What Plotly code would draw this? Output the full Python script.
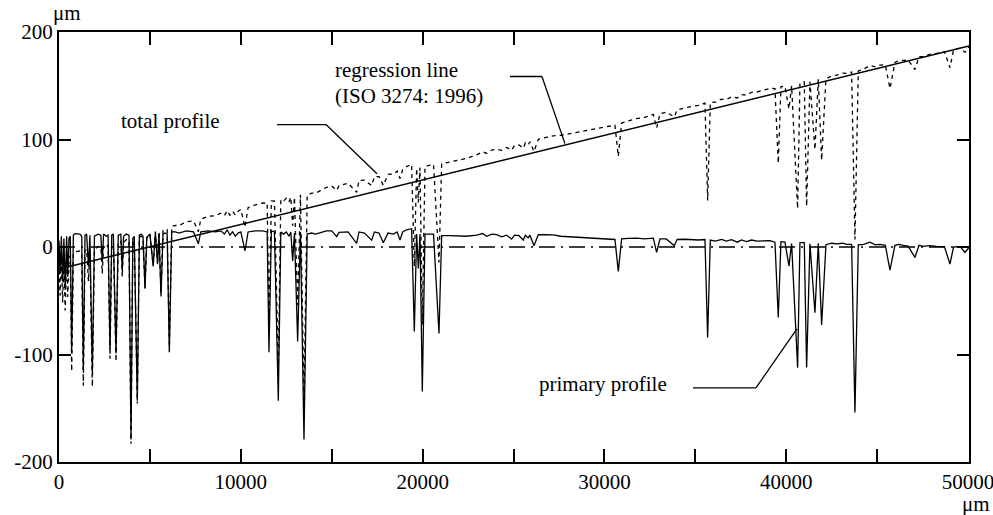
import numpy as np
import plotly.graph_objects as go

# ---- data (µm) ----
primary_x = [0, 60, 130, 200, 270, 340, 420, 480, 550, 620, 698, 790, 880, 1150, 1250, 1338, 1430, 1520, 1620, 1700,
             1833, 1950, 2160, 2300, 2380, 2450, 2600, 2700, 2805, 2900, 2990, 3135, 3260, 3400, 3480, 3550, 3700,
             3850, 3960, 4060, 4140, 4307, 4420, 4510, 4620, 4730, 4830, 5000, 5180, 5300, 5420, 5500, 5610, 5720,
             5830, 5950, 6068, 6200, 6400,
             6600, 7000, 7400, 7663, 7800, 8200, 8600, 8900, 9100, 9250, 9400, 9550, 9700, 9850, 10000, 10230, 10400,
             10800, 11200, 11450, 11549, 11680, 11850, 12062, 12200, 12350, 12500, 12650, 12750, 12851, 12950, 13126,
             13280, 13474, 13650, 13900, 14100, 14300,
             14700, 15000, 15271, 15400, 15900, 16370, 16500, 16800, 17195, 17350, 17600, 17837, 18100, 18400, 18600,
             18754, 18900, 19120, 19395, 19542, 19670, 19762, 19854, 19982, 20129, 20400, 20600, 20899, 21046, 21500,
             22000, 22400,
             22970, 23300, 23520, 23800, 24070, 24350, 24620, 24895, 25050, 25300, 25537, 25650, 25800, 25903, 26123,
             26362, 26800, 27186, 27600, 28103, 28500, 29020, 29500, 29936, 30300, 30578, 30761, 30944, 31300, 31769,
             32200, 32686, 32870, 33053,
             33400, 33840, 34000, 34427, 35161, 35528, 35675, 35821, 36100, 36445, 36700, 36994, 37300, 37544, 37800,
             38094, 38400, 38827, 39100, 39377, 39560, 39707, 39927, 40147, 40294, 40624, 40752, 40990, 41119, 41302,
             41577, 41760, 41944, 42182, 42500, 42769, 43100, 43319, 43594, 43777, 43960, 44250, 44602, 44900, 45152,
             45450, 45702, 45977, 46200, 46435, 46700, 47077, 47300, 47535, 47900, 48269, 48700, 49002, 49200, 49369,
             49600, 49827, 50050]
primary_y = [6, -25, 10, -32, 8, -40, 10, -28, 8, 10, -98, 11, 12.5, 12, 10, -114, 11, 12, -18, 11,
             -117, 10, 12, 11, -14, 12, 10, 11, -95, 11, 12, -99, 11, 12, -22, 10, 12,
             11, -179, 8, 10, -143, 11, 12, 10, -38, 9, 12, -18, 13, -16, 12, -46, 12,
             13, 12, -98, 14, 14,
             13, 15, 14, 3, 14, 15, 14, 15, 12, 16, 11, 14, 10, 13, 14, -3.5, 14,
             15, 15, 14, -98, 15, 14, -143, 14, 12, 14, 10, 14, -13, 13, -88,
             14, -179, 12, 13, 12, 13,
             15, 15, 9.7, 13.6, 14, 3.4, 14, 13, 6.4, 14, 13, 3.9, 13, 12, 14,
             6.4, 14, 16, 17, -78.6, 12, -20, 12, -134.5, 12, 12, 12, -80.5, 10.5, 10.5,
             10.5, 10,
             11, 12.5, 10, 12, 11.5, 9.5, 11, 7.4, 11, 10.5, 6.5, 11, 8.5, 11, 1.1,
             11.4, 11.4, 11.2, 10, 9.5, 9, 8, 8.2, 7.5, 7, 7, -22.7, 7.5, 8, 8.3,
             7.5, 8.3, -5, 7.5,
             7.5, 1.2, 7, 7.2, 6.5, 7, -84.2, 6.5, 5.5, 7, 5.5, 6.8, 4.5, 6.5, 5,
             6.5, 5.5, 5.5, 6, 4.5, -65.6, 5, 4.5, -17.5, 3.3, -112.2, 4, 4, -112, 3,
             -61.2, 3.5, -72.6, 2.1, 3.5, 3, 3.5, 2.5, 2.5, -154, 2, 2.5, 4.5, 2, 2.5,
             1.5, -21.5, 1.5, 2.5, 1.5, 0.8, -9.7, 1.5, 0.5, 1.2, 0.5, 0.3, -15.9, 0, 0.3,
             -0.3, -5, -0.5]

# regression (form) line, ISO 3274:1996 – end points
regression_x = [0, 50050]
regression_y = [-20.5, 187]

# mean line of the primary profile
mean_x = [0, 50050]
mean_y = [0, 0]

# total profile = primary profile + regression line (the form that was removed)
total_x = primary_x
total_y = list(np.array(primary_y) + np.interp(primary_x, regression_x, regression_y))

x_tickvals = list(range(0, 50001, 5000))
x_ticktext = ["0", "", "10000", "", "20000", "", "30000", "", "40000", "", "50000"]
y_tickvals = [-200, -100, 0, 100, 200]
y_ticktext = ["-200", "-100", "0", "100", "200"]

FONT = "Liberation Serif"

fig = go.Figure()
fig.add_trace(go.Scatter(x=mean_x, y=mean_y, mode="lines",
                         line=dict(color="black", width=1.3, dash="16px,6px,2px,6px"), hoverinfo="skip"))
fig.add_trace(go.Scatter(x=total_x, y=total_y, mode="lines",
                         line=dict(color="black", width=1.3, dash="4px,4px"), hoverinfo="skip"))
fig.add_trace(go.Scatter(x=regression_x, y=regression_y, mode="lines",
                         line=dict(color="black", width=1.5), hoverinfo="skip"))
fig.add_trace(go.Scatter(x=primary_x, y=primary_y, mode="lines",
                         line=dict(color="black", width=1.3), hoverinfo="skip"))

# labels with leader lines
labels = [
    dict(text="total profile", x=6105, y=117.6, xanchor="center"),
    dict(text="regression line", x=15069, y=164.2, xanchor="left"),
    dict(text="(ISO 3274: 1996)", x=15069, y=140.9, xanchor="left"),
    dict(text="primary profile", x=26272, y=-127.7, xanchor="left"),
]
for lb in labels:
    fig.add_annotation(x=lb["x"], y=lb["y"], text=lb["text"], showarrow=False,
                       xanchor=lb["xanchor"], yanchor="middle",
                       font=dict(family=FONT, size=21, color="black"))

leaders = [
    ([11989, 14684, 17489], [113.9, 113.9, 68.2]),
    ([24803, 26563, 27828], [158.6, 158.6, 96.2]),
    ([34867, 38332, 40587], [-131.1, -131.1, -76.2]),
]
for lx, ly in leaders:
    for i in range(len(lx) - 1):
        fig.add_shape(type="line", xref="x", yref="y", x0=lx[i], y0=ly[i], x1=lx[i + 1], y1=ly[i + 1],
                      line=dict(color="black", width=1.3))

# unit labels
fig.add_annotation(xref="paper", yref="paper", x=0.0093, y=1.0435, text="μm", showarrow=False,
                   xanchor="center", yanchor="middle", font=dict(family=FONT, size=21, color="black"))
fig.add_annotation(xref="paper", yref="paper", x=1.0075, y=-0.0977, text="μm", showarrow=False,
                   xanchor="center", yanchor="middle", font=dict(family=FONT, size=21, color="black"))

axis_common = dict(showline=True, linecolor="black", linewidth=2, mirror="allticks", ticks="inside",
                   tickcolor="black", tickwidth=1.5, showgrid=False, zeroline=False,
                   ticklabeloverflow="allow", automargin=False,
                   tickfont=dict(family=FONT, size=21, color="black"))
fig.update_xaxes(range=[0, 50050], tickmode="array", tickvals=x_tickvals, ticktext=x_ticktext,
                 ticklen=13, **axis_common)
fig.update_yaxes(range=[-200, 200], tickmode="array", tickvals=y_tickvals, ticktext=y_ticktext,
                 ticklen=12, **axis_common)

fig.update_layout(width=993, height=515, margin=dict(l=59, r=24, t=32, b=53),
                  paper_bgcolor="white", plot_bgcolor="white", showlegend=False,
                  font=dict(family=FONT, size=21, color="black"))

fig.write_html("out.html")
